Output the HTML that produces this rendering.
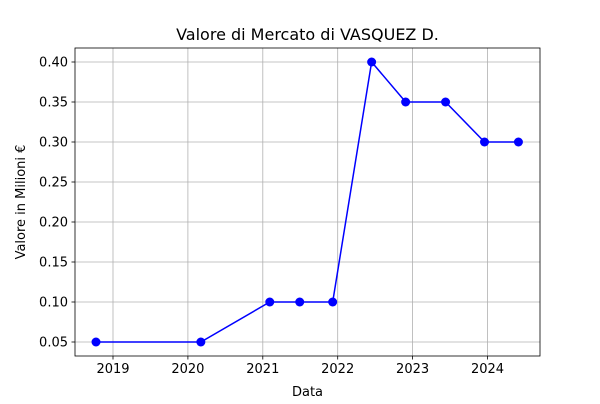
<!DOCTYPE html>
<html><head><meta charset="utf-8"><style>
body{margin:0;background:#fff;font-family:"DejaVu Sans","Liberation Sans",sans-serif;}
svg text{font-family:"DejaVu Sans","Liberation Sans",sans-serif;}
</style></head><body>
<svg id="chart" width="600" height="400" xmlns="http://www.w3.org/2000/svg"></svg>
<script>
const dates = [2018.773, 2020.173, 2021.093, 2021.493, 2021.933, 2022.453, 2022.907, 2023.44, 2023.96, 2024.413];
const values = [0.05, 0.05, 0.10, 0.10, 0.10, 0.40, 0.35, 0.35, 0.30, 0.30];
const xTicks = [2019, 2020, 2021, 2022, 2023, 2024];
const yTicks = [0.05, 0.10, 0.15, 0.20, 0.25, 0.30, 0.35, 0.40];

const L=75,R=540,T=48,B=356;
const x = v => 113 + (v-2019)*74.9;
const y = v => 342 - (v-0.05)*800;
const svg = document.getElementById('chart');
const NS='http://www.w3.org/2000/svg';
function mk(tag, attrs, parent){const e=document.createElementNS(NS,tag);for(const k in attrs)e.setAttribute(k,attrs[k]);(parent||svg).appendChild(e);return e;}

const grid = mk('g',{});


xTicks.forEach(t=>{
  const gx=x(t);
  mk('line',{x1:gx,x2:gx,y1:T,y2:B,stroke:'#b0b0b0','stroke-width':0.8},grid);
  mk('line',{x1:gx,x2:gx,y1:B,y2:B+3.5,stroke:'#000','stroke-width':0.8},grid);
  const tx=mk('text',{x:gx,y:B+17,'font-size':13,'text-anchor':'middle'});
  tx.textContent=t;
  
  
});
yTicks.forEach(t=>{
  const gy=y(t);
  mk('line',{x1:L,x2:R,y1:gy,y2:gy,stroke:'#b0b0b0','stroke-width':0.8},grid);
  mk('line',{x1:L-3.5,x2:L,y1:gy,y2:gy,stroke:'#000','stroke-width':0.8},grid);
  const tx=mk('text',{x:L-7,y:gy+4.5,'font-size':13,'text-anchor':'end'});
  tx.textContent=t.toFixed(2);
  
  
});

const line = mk('polyline',{points:dates.map((d,i)=>x(d)+','+y(values[i])).join(' '),fill:'none',stroke:'#0000ff','stroke-width':1.5});


dates.forEach((d,i)=>{
  const c=mk('circle',{cx:x(d),cy:y(values[i]),r:4.5,fill:'#0000ff'});
  
  
});

const frame=mk('rect',{x:L,y:T,width:R-L,height:B-T,fill:'none',stroke:'#000','stroke-width':0.8});



const title=mk('text',{x:(L+R)/2,y:40,'font-size':16,'text-anchor':'middle'});
title.textContent='Valore di Mercato di VASQUEZ D.';


const xl=mk('text',{x:(L+R)/2,y:396,'font-size':13,'text-anchor':'middle'});
xl.textContent='Data';


const yl=mk('text',{x:0,y:0,'font-size':13,'text-anchor':'middle',transform:'translate(25,'+((T+B)/2)+') rotate(-90)'});
yl.textContent='Valore in Milioni €';


</script>
</body></html>
